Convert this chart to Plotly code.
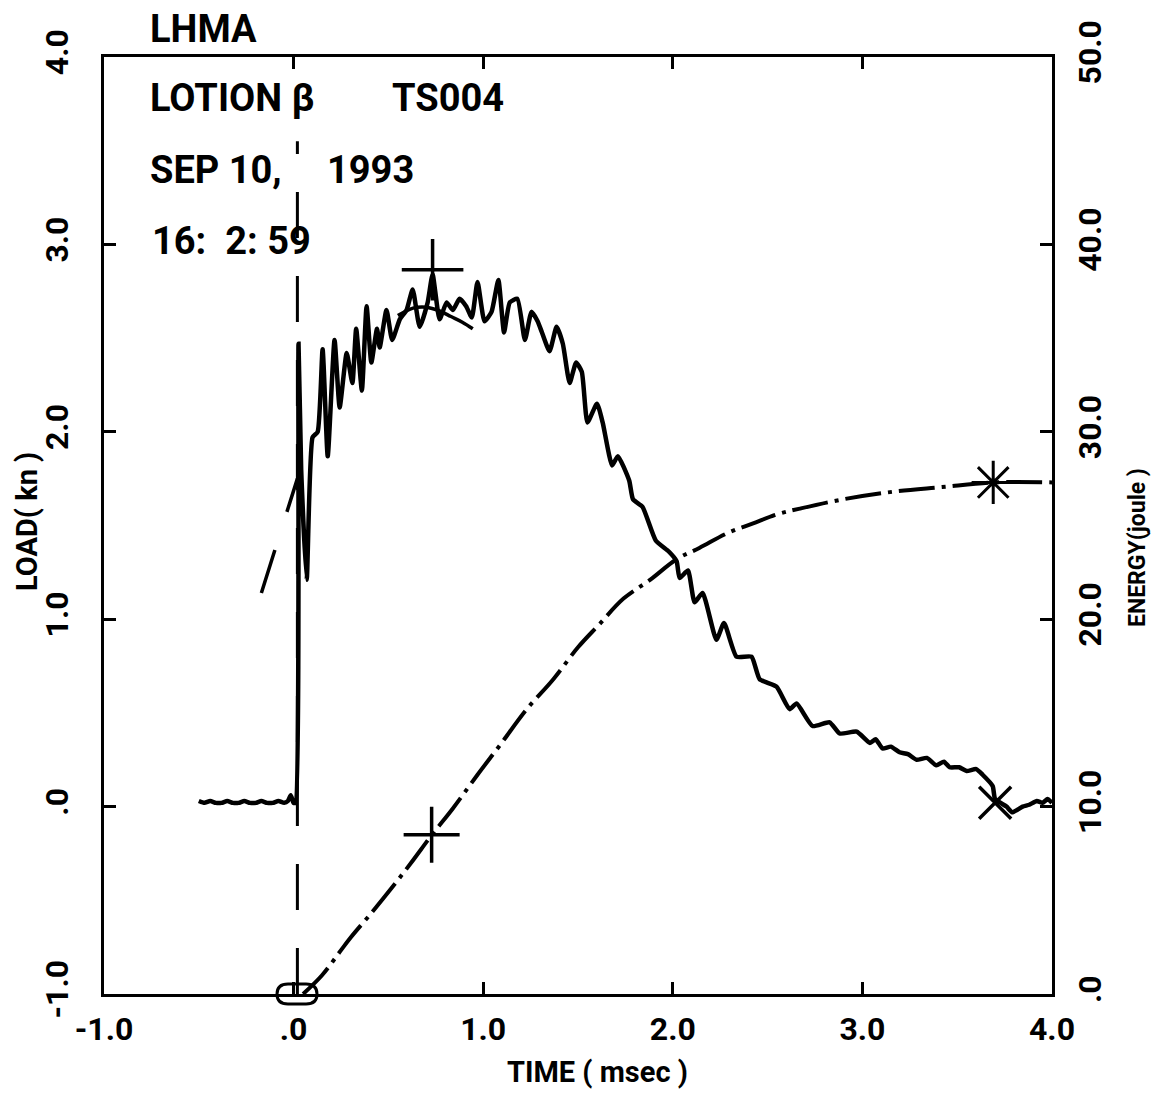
import plotly.graph_objects as go

# ---------------- data ----------------
load_time = [-0.50, -0.47, -0.44, -0.41, -0.38, -0.35, -0.32, -0.29, -0.26, -0.23, -0.20, -0.17,
             -0.14, -0.11, -0.08, -0.05, -0.03, -0.015, 0.0, 0.01,
             0.026, 0.04, 0.069, 0.10, 0.127, 0.153, 0.18, 0.216, 0.243, 0.28, 0.31, 0.33, 0.36,
             0.385, 0.41, 0.44, 0.454, 0.49, 0.52, 0.56, 0.596, 0.628, 0.665, 0.707, 0.733, 0.77,
             0.807, 0.84, 0.875, 0.91, 0.94, 0.97, 1.007, 1.044, 1.08, 1.11, 1.14, 1.18, 1.22,
             1.255, 1.287, 1.31, 1.35, 1.387, 1.42, 1.456, 1.49, 1.52, 1.55, 1.60, 1.63, 1.68,
             1.71, 1.77, 1.79, 1.84, 1.91, 1.98, 2.02, 2.036, 2.08, 2.115, 2.157, 2.23, 2.27,
             2.336, 2.415, 2.458, 2.547, 2.616, 2.653, 2.737, 2.827, 2.88, 2.97, 3.04, 3.07,
             3.106, 3.15, 3.196, 3.24, 3.286, 3.34, 3.39, 3.43, 3.46, 3.51, 3.55, 3.60, 3.634,
             3.687, 3.70, 3.76, 3.79, 3.845, 3.88, 3.92, 3.95, 3.977, 4.0]
load_kn = [0.03, 0.02, 0.03, 0.02, 0.02, 0.03, 0.02, 0.02, 0.03, 0.02, 0.02, 0.03,
           0.02, 0.02, 0.03, 0.02, 0.03, 0.06, 0.02, 0.02,
           2.47, 1.80, 1.21, 1.97, 2.00, 2.44, 1.87, 2.49, 2.13, 2.42, 2.26, 2.55, 2.22,
           2.67, 2.37, 2.55, 2.45, 2.65, 2.49, 2.60, 2.65, 2.76, 2.56, 2.69, 2.84, 2.60,
           2.69, 2.65, 2.71, 2.67, 2.61, 2.80, 2.59, 2.64, 2.81, 2.53, 2.69, 2.71, 2.49,
           2.64, 2.59, 2.53, 2.43, 2.56, 2.47, 2.26, 2.37, 2.32, 2.05, 2.15, 2.05, 1.82,
           1.87, 1.74, 1.64, 1.60, 1.42, 1.36, 1.31, 1.22, 1.26, 1.09, 1.14, 0.89, 0.98,
           0.80, 0.80, 0.68, 0.64, 0.52, 0.55, 0.43, 0.45, 0.39, 0.40, 0.34, 0.36,
           0.31, 0.32, 0.29, 0.28, 0.25, 0.26, 0.22, 0.24, 0.21, 0.21, 0.19, 0.20, 0.17,
           0.11, 0.04, 0.00, -0.03, 0.00, 0.01, 0.03, 0.02, 0.04, 0.02]

energy_time = [0.05, 0.15, 0.24, 0.30, 0.40, 0.52, 0.62, 0.73, 0.84, 0.97, 1.09, 1.23, 1.37,
               1.50, 1.61, 1.74, 1.88, 2.02, 2.14, 2.29, 2.42, 2.55, 2.67, 2.90, 3.16, 3.42,
               3.69, 4.00]
energy_j = [0.0, 1.0, 2.2, 3.0, 4.2, 5.7, 7.0, 8.5, 9.9, 11.7, 13.3, 15.2, 16.8,
            18.5, 19.7, 21.1, 22.1, 23.2, 23.8, 24.6, 25.1, 25.6, 25.9, 26.4, 26.8, 27.05,
            27.3, 27.3]

# fitted peak curve and initial slope line
peakfit_time = [0.55, 0.63, 0.70, 0.77, 0.83, 0.89, 0.945]
peakfit_kn = [2.62, 2.66, 2.665, 2.645, 2.615, 2.585, 2.55]
slope_time = [-0.17, 0.02]
slope_kn = [1.14, 1.75]

impact_time = 0.02
marker_peak = (0.733, 2.865)        # load peak
marker_end_load = (3.70, 0.02)      # end of test (load)
marker_energy_peak = (0.728, 8.5)   # energy at peak load
marker_energy_end = (3.69, 27.3)    # total energy
energy_start = (0.018, 0.0)

x_ticks = [-1, 0, 1, 2, 3, 4]
x_ticktext = ["-1.0", ".0", "1.0", "2.0", "3.0", "4.0"]
y_ticks = [-1, 0, 1, 2, 3, 4]
y_ticktext = ["-1.0", ".0", "1.0", "2.0", "3.0", "4.0"]
y2_ticks = [0, 10, 20, 30, 40, 50]
y2_ticktext = [".0", "10.0", "20.0", "30.0", "40.0", "50.0"]

FONT = "Roboto, Liberation Sans Narrow, sans-serif"

fig = go.Figure()

# impact marker line
fig.add_trace(go.Scatter(x=[impact_time, impact_time], y=[-1, 3.55], mode="lines",
                         line=dict(color="black", width=3, dash="46px,38px"), showlegend=False))
# slope line
fig.add_trace(go.Scatter(x=slope_time, y=slope_kn, mode="lines",
                         line=dict(color="black", width=3.5, dash="45px,40px"), showlegend=False))
# load curve
fig.add_trace(go.Scatter(x=load_time, y=load_kn, mode="lines", line_shape="spline",
                         line=dict(color="black", width=4.5, smoothing=0.5), showlegend=False))
# peak fit
fig.add_trace(go.Scatter(x=peakfit_time, y=peakfit_kn, mode="lines", line_shape="spline",
                         line=dict(color="black", width=3.5), showlegend=False))
# markers on load
fig.add_trace(go.Scatter(x=[marker_peak[0]], y=[marker_peak[1]], mode="markers",
                         marker=dict(symbol="cross-thin", size=44, color="black",
                                     line=dict(color="black", width=3.5)),
                         showlegend=False))
fig.add_trace(go.Scatter(x=[marker_end_load[0]], y=[marker_end_load[1]], mode="markers",
                         marker=dict(symbol="x-thin", size=32, color="black",
                                     line=dict(color="black", width=3.5)),
                         showlegend=False))
# energy curve
fig.add_trace(go.Scatter(x=energy_time, y=energy_j, mode="lines", yaxis="y2", line_shape="spline",
                         line=dict(color="black", width=4, dash="36px,7px,4px,7px"), showlegend=False))
fig.add_trace(go.Scatter(x=[marker_energy_peak[0]], y=[marker_energy_peak[1]], mode="markers", yaxis="y2",
                         marker=dict(symbol="cross-thin", size=40, color="black",
                                     line=dict(color="black", width=3.5)),
                         showlegend=False))
fig.add_trace(go.Scatter(x=[marker_energy_end[0]], y=[marker_energy_end[1]], mode="markers", yaxis="y2",
                         marker=dict(symbol="asterisk-open", size=36, color="black",
                                     line=dict(color="black", width=3)),
                         showlegend=False))

# rounded-rectangle start marker at energy origin (x in data, y at bottom edge of plot)
fig.add_shape(type="path", xref="x", yref="paper", xsizemode="pixel", ysizemode="pixel",
              xanchor=energy_start[0], yanchor=0,
              path="M -9,-10 L 9,-10 Q 20,-10 20,0 Q 20,10 9,10 L -9,10 Q -20,10 -20,0 Q -20,-10 -9,-10 Z",
              line=dict(color="black", width=3), layer="above")

W, H = 1157, 1095
L, R, T, B = 104, 105, 57, 101
pw, ph = W - L - R, H - T - B


def px(x):
    return (x - L) / pw


def py(y):
    return (H - B - y) / ph


axis_common = dict(showgrid=False, zeroline=False, showline=True, linecolor="black", linewidth=3,
                   ticks="inside", ticklen=12, tickwidth=3, tickcolor="black",
                   tickfont=dict(family=FONT, size=32, color="black", weight="bold"))

fig.update_layout(
    width=W, height=H, margin=dict(l=L, r=R, t=T, b=B),
    paper_bgcolor="white", plot_bgcolor="white",
    xaxis=dict(range=[-1, 4], tickvals=x_ticks, ticktext=x_ticktext, mirror="ticks",
               ticklabelstandoff=5, **axis_common),
    yaxis=dict(range=[-1, 4], tickvals=y_ticks, ticktext=y_ticktext, tickangle=-90, mirror=True,
               ticklabelstandoff=20, **axis_common),
    yaxis2=dict(range=[0, 50], tickvals=y2_ticks, ticktext=y2_ticktext, tickangle=-90,
                overlaying="y", side="right", ticklabelstandoff=8, **axis_common),
    font=dict(family=FONT, color="black"),
)

hdr = dict(family=FONT, size=38, color="black", weight="bold")
texts = [
    ("LHMA", 148, 29),
    ("LOTION β", 148, 98),
    ("TS004", 390, 98),
    ("SEP 10,", 148, 170),
    ("1993", 325, 170),
    ("16:  2: 59", 150, 241),
]
for t, x, y in texts:
    fig.add_annotation(text=t, xref="paper", yref="paper", x=px(x), y=py(y),
                       xanchor="left", yanchor="middle", showarrow=False, font=hdr)

fig.add_annotation(text="LOAD( kn )", xref="paper", yref="paper", x=px(27), y=py(522),
                   textangle=-90, showarrow=False, xanchor="center", yanchor="middle",
                   font=dict(family=FONT, size=29, color="black", weight="bold"))
fig.add_annotation(text="TIME ( msec )", xref="paper", yref="paper", x=px(597), y=py(1072),
                   showarrow=False, xanchor="center", yanchor="middle",
                   font=dict(family=FONT, size=29, color="black", weight="bold"))
fig.add_annotation(text="ENERGY(joule )", xref="paper", yref="paper", x=px(1137), y=py(548),
                   textangle=-90, showarrow=False, xanchor="center", yanchor="middle",
                   font=dict(family=FONT, size=23, color="black", weight="bold"))

fig.write_html("out.html")
